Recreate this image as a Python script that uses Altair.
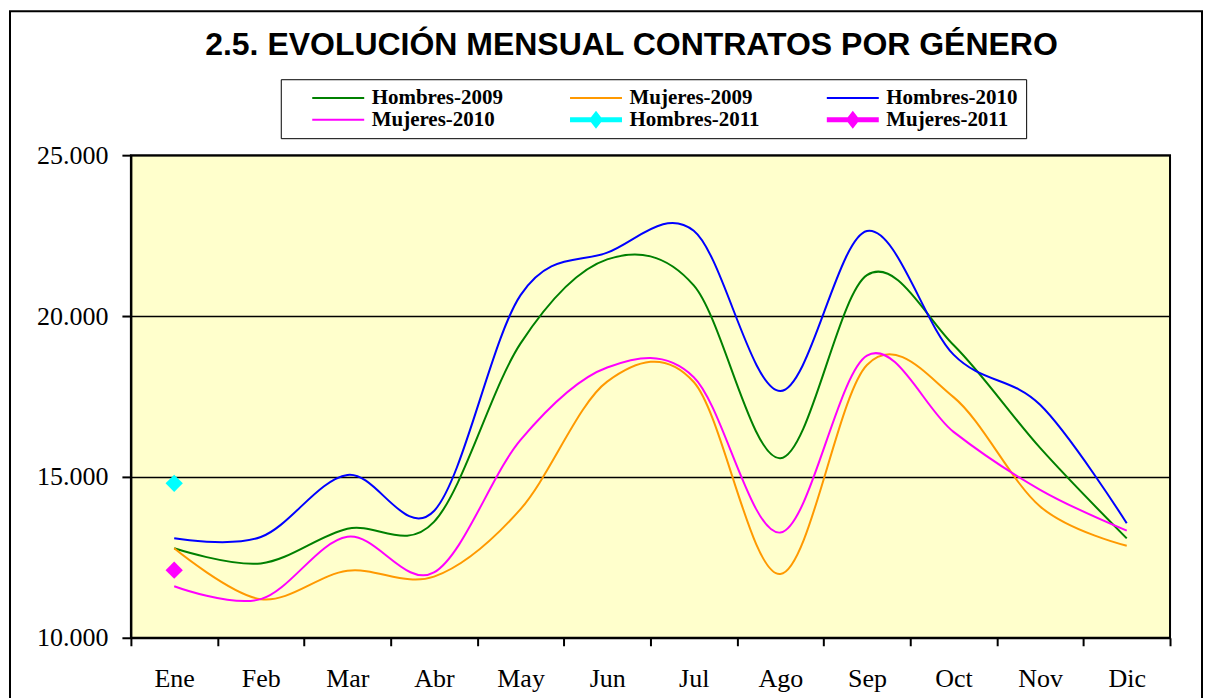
import altair as alt
import pandas as pd

months = ["Ene", "Feb", "Mar", "Abr", "May", "Jun", "Jul", "Ago", "Sep", "Oct", "Nov", "Dic"]

hombres_2009 = [12780, 12310, 13390, 13600, 19150, 21760, 20950, 15580, 21270, 19100, 15900, 13090]
mujeres_2009 = [12780, 11200, 12080, 11900, 14000, 17960, 17950, 11980, 18480, 17480, 14080, 12860]
hombres_2010 = [13090, 13130, 15060, 13940, 20650, 21970, 22650, 17670, 22640, 18800, 17240, 13560]
mujeres_2010 = [11600, 11200, 13140, 12030, 16150, 18400, 18100, 13270, 18770, 16400, 14600, 13330]
hombres_2011 = [14800]
mujeres_2011 = [12100]

series_names = ["Hombres-2009", "Mujeres-2009", "Hombres-2010",
                "Mujeres-2010", "Hombres-2011", "Mujeres-2011"]
series_colors = ["#008000", "#FF9900", "#0000FF", "#FF00FF", "#00FFFF", "#FF00FF"]
y_ticks = [10000, 15000, 20000, 25000]
title_text = "2.5. EVOLUCIÓN MENSUAL CONTRATOS POR GÉNERO"

line_rows = []
for name, vals in [("Hombres-2009", hombres_2009), ("Mujeres-2009", mujeres_2009),
                   ("Hombres-2010", hombres_2010), ("Mujeres-2010", mujeres_2010)]:
    for m, v in zip(months, vals):
        line_rows.append({"serie": name, "mes": m, "v": v})
df_lines = pd.DataFrame(line_rows)

pt_rows = []
for name, vals in [("Hombres-2011", hombres_2011), ("Mujeres-2011", mujeres_2011)]:
    for m, v in zip(months, vals):
        pt_rows.append({"serie": name, "mes": m, "v": v})
df_pts = pd.DataFrame(pt_rows)

# legend symbol shapes: thin line / thick line with diamond
thin = "M-2.6,-0.1L2.6,-0.1L2.6,0.1L-2.6,0.1Z"
thick_diamond = "M-2.6,-0.25L2.6,-0.25L2.6,0.25L-2.6,0.25Z M0,-0.9L0.7,0L0,0.9L-0.7,0Z"
legend_shapes = [thin, thin, thin, thin, thick_diamond, thick_diamond]

color_scale = alt.Scale(domain=series_names, range=series_colors)

x_enc = alt.X("mes:N", sort=months,
              scale=alt.Scale(type="band", domain=months, paddingInner=0, paddingOuter=0),
              axis=alt.Axis(title=None, tickBand="extent", labelAngle=0, tickSize=8,
                            labelPadding=20, grid=False))
y_enc = alt.Y("v:Q", scale=alt.Scale(domain=[10000, 25000], nice=False, zero=False),
              axis=alt.Axis(title=None, values=y_ticks, grid=True, tickSize=9, labelPadding=14,
                            labelExpr="replace(format(datum.value, ','), ',', '.')"))

legend_props = dict(orient="none", legendX=150, legendY=-76, direction="horizontal",
                    columns=3, columnPadding=66, rowPadding=0, padding=8,
                    strokeColor="black", fillColor="white",
                    title=" ", titleOrient="left", titlePadding=23, titleFontSize=19,
                    labelFont="Liberation Serif", labelFontSize=21, labelFontWeight="bold",
                    labelColor="black", labelLimit=400, symbolSize=400, symbolOffset=16,
                    labelOffset=23, symbolStrokeWidth=0, symbolOpacity=1)

frame = alt.Chart(pd.DataFrame({"k": [0]})).mark_rect(
    fill="transparent", stroke="black", strokeWidth=2
).encode(x=alt.value(-121), x2=alt.value(1072), y=alt.value(-144), y2=alt.value(560))

leg = alt.Chart(df_pts).transform_filter("false").mark_point(filled=True, opacity=1).encode(
    x=x_enc, y=y_enc,
    color=alt.Color("serie:N", scale=color_scale, legend=alt.Legend(**legend_props)),
    shape=alt.Shape("serie:N", scale=alt.Scale(domain=series_names, range=legend_shapes),
                    legend=alt.Legend(**legend_props)),
)

lines = alt.Chart(df_lines).mark_line(interpolate="cardinal", strokeWidth=2).encode(
    x=x_enc, y=y_enc,
    color=alt.Color("serie:N", scale=color_scale, legend=None),
)

pts = alt.Chart(df_pts).mark_point(shape="diamond", filled=True, size=300, opacity=1).encode(
    x=x_enc, y=y_enc,
    color=alt.Color("serie:N", scale=color_scale, legend=None),
)

chart = alt.layer(frame, leg, lines, pts).properties(
    width=1040, height=483,
    title=alt.TitleParams(title_text, font="Liberation Sans", fontSize=32, fontWeight="bold",
                          color="black", anchor="middle", baseline="alphabetic",
                          offset=-77, dx=-19),
    padding={"left": 123, "top": 147, "right": 35, "bottom": 60},
    autosize=alt.AutoSizeParams(type="none"),
).configure_view(
    fill="#FFFFCC", stroke="black", strokeWidth=2
).configure_axis(
    domainColor="black", domainWidth=2, tickColor="black", tickWidth=2,
    labelFont="Liberation Serif", labelFontSize=26, labelColor="black",
    gridColor="black", gridWidth=1.5,
)

chart.save("out.html", embed_options={"renderer": "svg", "actions": False})
